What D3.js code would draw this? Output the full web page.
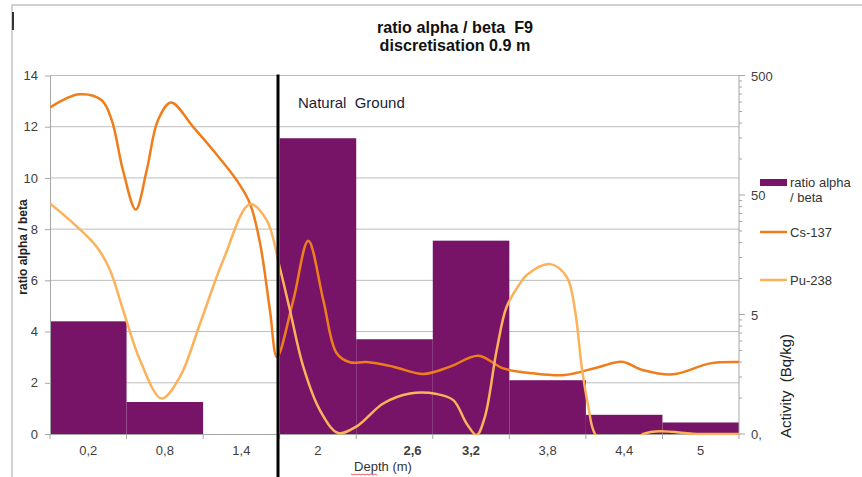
<!DOCTYPE html>
<html>
<head>
<meta charset="utf-8">
<script src="https://cdn.jsdelivr.net/npm/d3@7"></script>
<style>
  body { margin: 0; background: #fff; }
  svg { display: block; font-family: "Liberation Sans", Arial, sans-serif; }
  svg text { white-space: pre; }
  .tick text { fill: #404040; }
</style>
</head>
<body>
<svg width="862" height="477"></svg>
<script>
// depth classes (x axis) and ratio alpha / beta per class
var depthLabels = ["0,2", "0,8", "1,4", "2", "2,6", "3,2", "3,8", "4,4", "5"];
var ratioAlphaBeta = [4.4, 1.25, 0, 11.55, 3.7, 7.55, 2.1, 0.75, 0.45];

// Cs-137 profile (depth m, activity Bq/kg)
var csDepth = [0, 0.23, 0.405, 0.484, 0.572, 0.672, 0.758, 0.846, 0.948, 1.123, 1.28, 1.463, 1.567, 1.646, 1.724, 1.779,
  1.907, 2.024, 2.142, 2.247, 2.351, 2.482, 2.69, 2.926, 3.135, 3.357, 3.553, 3.786, 4.036, 4.311, 4.481, 4.65, 4.885, 5.173, 5.4];
var csActivity = [270, 348, 310, 211, 80.5, 37.8, 80.5, 211, 297, 185, 118, 66.5, 42.5, 19.8, 5.4, 2.2,
  6.6, 20.7, 6.6, 2.37, 1.99, 2.0, 1.83, 1.59, 1.83, 2.26, 1.77, 1.61, 1.56, 1.83, 2.01, 1.71, 1.58, 1.95, 2.0];

// Pu-238 profile
var puDepth = [0, 0.183, 0.366, 0.47, 0.574, 0.705, 0.875, 1.019, 1.176, 1.358, 1.567, 1.698, 1.802, 1.881, 1.985, 2.116,
  2.259, 2.404, 2.612, 2.821, 3.031, 3.161, 3.266, 3.344, 3.409, 3.501, 3.579, 3.684, 3.736, 3.919, 4.05, 4.115, 4.167,
  4.219, 4.271, 4.467, 4.65, 5.094, 5.4];
var puActivity = [42.5, 28.9, 18.4, 11.8, 5.4, 2.08, 0.99, 1.51, 4.2, 14.3, 41.9, 30.8, 12.2, 5.4, 1.83, 0.79,
  0.51, 0.58, 0.9, 1.09, 1.08, 0.96, 0.61, 0.49, 0.7, 2.52, 5.8, 9.1, 10.7, 13.2, 10.3, 5.4, 1.83,
  0.85, 0.5, 0.3, 0.5, 0.5, 0.5];

var leftTicks = [0, 2, 4, 6, 8, 10, 12, 14];
var rightTicks = [0.5, 5, 50, 500];
var rightTickLabels = ["0,", "5", "50", "500"];

var svg = d3.select("svg");
var L = 50, R = 739, T = 75.5, B = 434;

// chart frame
svg.append("path").attr("d", "M12,477V5H862").attr("fill", "none").attr("stroke", "#c4c4c4").attr("stroke-width", 1.5);
svg.append("rect").attr("x", 12).attr("y", 12).attr("width", 2).attr("height", 18).attr("fill", "#333");

// title (condensed look)
var title = svg.append("text").attr("transform", "translate(455,0) scale(0.95,1)").attr("text-anchor", "middle")
  .attr("font-weight", "bold").attr("font-size", 17).attr("fill", "#111");
title.append("tspan").attr("x", 0).attr("y", 33).text("ratio alpha / beta  F9");
title.append("tspan").attr("x", 0).attr("y", 51).text("discretisation 0.9 m");

var x = d3.scaleBand().domain(depthLabels).range([L, R]).padding(0);
var xd = d3.scaleLinear().domain([0, 5.4]).range([L, R]);
var y = d3.scaleLinear().domain([0, 14]).range([B, T]);
var y2 = d3.scaleLog().domain([0.5, 500]).range([B, T]);

// grid
svg.append("g").selectAll("line").data(leftTicks.slice(1)).enter().append("line")
  .attr("x1", L).attr("x2", R).attr("y1", function(d) { return y(d); }).attr("y2", function(d) { return y(d); })
  .attr("stroke", "#bdbdbd").attr("stroke-width", 1);

// bars
svg.append("g").selectAll("rect").data(ratioAlphaBeta).enter().append("rect")
  .attr("x", function(d, i) { return x(depthLabels[i]); })
  .attr("width", x.bandwidth())
  .attr("y", function(d) { return y(d); })
  .attr("height", function(d) { return B - y(d); })
  .attr("fill", "#771467");

// left axis
var gl = svg.append("g").attr("transform", "translate(" + L + ",0)")
  .call(d3.axisLeft(y).tickValues(leftTicks).tickSize(5).tickSizeOuter(0).tickPadding(7));
gl.select(".domain").attr("stroke", "#a6a6a6");
gl.selectAll(".tick line").attr("stroke", "#a6a6a6");
gl.selectAll(".tick text").attr("font-size", 13).attr("font-family", "Liberation Sans, Arial, sans-serif");

// right axis (log)
var minors = [];
rightTicks.slice(0, 3).forEach(function(m) { for (var k = 2; k <= 9; k++) minors.push(m * k); });
var gr = svg.append("g").attr("transform", "translate(" + R + ",0)");
gr.append("line").attr("y1", T).attr("y2", B).attr("stroke", "#a6a6a6");
gr.selectAll(".minor").data(minors).enter().append("line").attr("class", "minor")
  .attr("x1", 0).attr("x2", 3).attr("y1", function(d) { return y2(d); }).attr("y2", function(d) { return y2(d); })
  .attr("stroke", "#a6a6a6");
gr.selectAll(".major").data(rightTicks).enter().append("line").attr("class", "major")
  .attr("x1", 0).attr("x2", 6).attr("y1", function(d) { return y2(d); }).attr("y2", function(d) { return y2(d); })
  .attr("stroke", "#a6a6a6");
gr.selectAll("text").data(rightTicks).enter().append("text")
  .attr("x", 12).attr("y", function(d) { return y2(d) + 5; })
  .attr("font-size", 13).attr("fill", "#404040")
  .text(function(d, i) { return rightTickLabels[i]; });

// x axis
var gx = svg.append("g").attr("transform", "translate(0," + B + ")")
  .call(d3.axisBottom(x).tickSize(0).tickPadding(12));
gx.select(".domain").attr("stroke", "#a6a6a6");
gx.selectAll(".tick text").attr("font-size", 13)
  .attr("font-weight", function(d, i) { return (i === 4 || i === 5) ? "bold" : null; })
  .attr("fill", function(d, i) { return (i === 4 || i === 5) ? "#111" : "#404040"; })
  .attr("dx", function(d, i) { return i === 4 ? 18 : 0; });
svg.append("g").selectAll("line").data(depthLabels.concat([""])).enter().append("line")
  .attr("x1", function(d, i) { return L + i * x.step(); }).attr("x2", function(d, i) { return L + i * x.step(); })
  .attr("y1", B).attr("y2", B + 5).attr("stroke", "#a6a6a6");

// lines
svg.append("clipPath").attr("id", "clip").append("rect").attr("x", L).attr("y", T - 2).attr("width", R - L).attr("height", B - T + 3);
var line = d3.line().x(function(d) { return xd(d[0]); }).y(function(d) { return y2(d[1]); }).curve(d3.curveCatmullRom.alpha(0.5));
var csData = csDepth.map(function(d, i) { return [d, csActivity[i]]; });
var puData = puDepth.map(function(d, i) { return [d, puActivity[i]]; });
var gLines = svg.append("g").attr("clip-path", "url(#clip)");
gLines.append("path").datum(csData).attr("d", line).attr("fill", "none").attr("stroke", "#f07d1b").attr("stroke-width", 2.5);
gLines.append("path").datum(puData).attr("d", line).attr("fill", "none").attr("stroke", "#fbb25a").attr("stroke-width", 2.5);

// natural ground marker
svg.append("line").attr("x1", 278).attr("x2", 278).attr("y1", T - 1).attr("y2", 477).attr("stroke", "#000").attr("stroke-width", 3);
svg.append("text").attr("x", 298).attr("y", 108).attr("font-size", 15).attr("fill", "#1c1c38").text("Natural  Ground");

// axis titles
svg.append("text").attr("transform", "translate(27,247) rotate(-90)").attr("text-anchor", "middle")
  .attr("font-size", 12).attr("font-weight", "bold").attr("fill", "#222").text("ratio alpha / beta");
svg.append("text").attr("transform", "translate(791,386) rotate(-90)").attr("text-anchor", "middle")
  .attr("font-size", 15).attr("fill", "#222").text("Activity  (Bq/kg)");
svg.append("text").attr("x", 383).attr("y", 471).attr("text-anchor", "middle").attr("font-size", 13).attr("fill", "#333").text("Depth (m)");
svg.append("path").attr("d", d3.range(351, 379, 2).map(function(v, i) { return (i ? "L" : "M") + v + "," + (474 + (i % 2)); }).join(""))
  .attr("fill", "none").attr("stroke", "#e03030").attr("stroke-width", 0.8);

// legend
var lg = svg.append("g").attr("font-size", 13).attr("fill", "#333");
lg.append("rect").attr("x", 760).attr("y", 179).attr("width", 27).attr("height", 7).attr("fill", "#771467");
lg.append("text").attr("x", 790).attr("y", 187).text("ratio alpha");
lg.append("text").attr("x", 790).attr("y", 202).text("/ beta");
lg.append("line").attr("x1", 760).attr("x2", 787).attr("y1", 232).attr("y2", 232).attr("stroke", "#f07d1b").attr("stroke-width", 2.5);
lg.append("text").attr("x", 790).attr("y", 237).text("Cs-137");
lg.append("line").attr("x1", 760).attr("x2", 787).attr("y1", 280).attr("y2", 280).attr("stroke", "#fbb25a").attr("stroke-width", 2.5);
lg.append("text").attr("x", 790).attr("y", 285).text("Pu-238");
</script>
</body>
</html>
